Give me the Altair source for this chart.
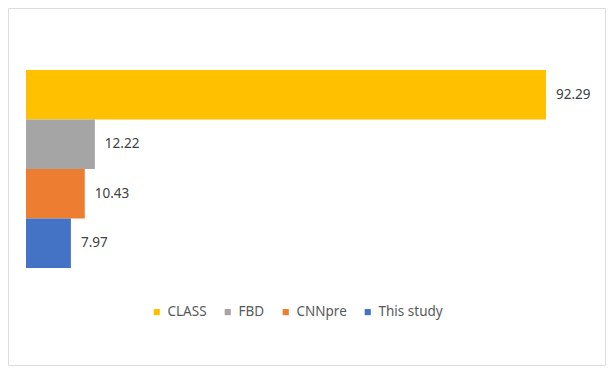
import altair as alt
import pandas as pd

methods = ["CLASS", "FBD", "CNNpre", "This study"]
values = [92.29, 12.22, 10.43, 7.97]
colors = ["#FFC000", "#A5A5A5", "#ED7D31", "#4472C4"]

df = pd.DataFrame({"method": methods, "value": values})
df["label"] = df["value"].map(lambda v: f"{v:.2f}")

W, H = 597, 357

x = alt.X("value:Q", scale=alt.Scale(domain=[0, 92.29], range=[18, 538]), axis=None)
y = alt.Y("method:N", sort=methods, axis=None,
          scale=alt.Scale(range=[62, 260], paddingInner=0, paddingOuter=0))

bars = alt.Chart(df).mark_bar().encode(
    x=x, y=y,
    color=alt.Color("method:N", sort=methods,
                    scale=alt.Scale(domain=methods, range=colors),
                    legend=alt.Legend(title=None, orient="none", direction="horizontal",
                                      legendX=142, legendY=297,
                                      symbolType="square", symbolSize=38,
                                      symbolStrokeWidth=0,
                                      labelFont="Noto Sans", labelFontSize=13.5,
                                      labelColor="#595959", columnPadding=14,
                                      labelOffset=4)),
)

text = alt.Chart(df).mark_text(align="left", baseline="middle", dx=10,
                               font="Noto Sans", fontSize=13.5,
                               color="#404040").encode(
    x=x, y=y, text="label:N")

chart = (bars + text).properties(
    width=W, height=H,
    autosize=alt.AutoSizeParams(type="none"),
    padding={"left": 0, "top": 0, "right": 1, "bottom": 1},
).configure_view(stroke="#D9D9D9", strokeWidth=1).configure(background="white")

chart.save("out.html", embed_options={"renderer": "svg", "actions": False})
